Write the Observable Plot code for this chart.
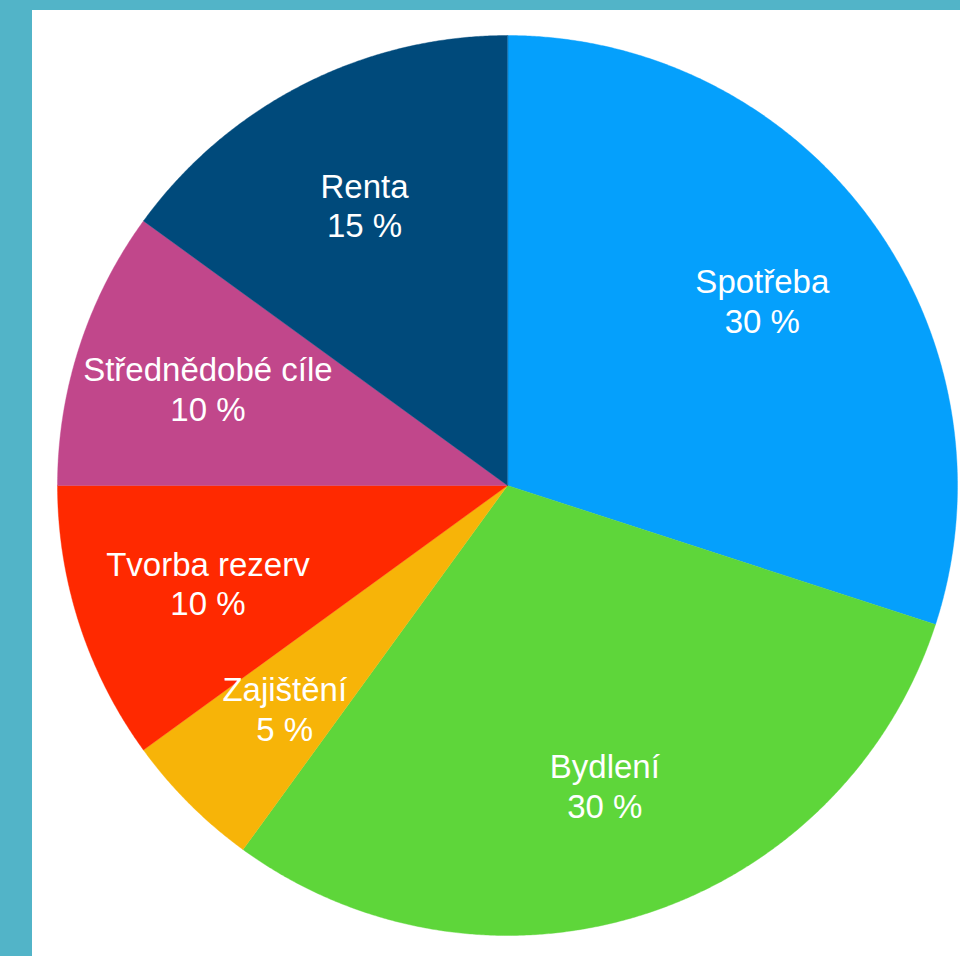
<!DOCTYPE html>
<html><head><meta charset="utf-8">
<script src="https://cdn.jsdelivr.net/npm/d3@7"></script>
<script src="https://cdn.jsdelivr.net/npm/@observablehq/plot@0.6"></script>
<style>
html,body{margin:0;padding:0;background:#52b4c8;width:960px;height:956px;overflow:hidden}
#panel{position:absolute;left:32px;top:10px;width:928px;height:946px;background:#fff}
</style></head><body><div id="panel"></div>
<script>
const categories = ["Spotřeba","Bydlení","Zajištění","Tvorba rezerv","Střednědobé cíle","Renta"];
const values = [30,30,5,10,10,15];
const colors = ["#05a0fc","#5ed63a","#f7b408","#ff2900","#c1478b","#004a7b"];
const labelRadius = 0.7;

const arcs = d3.pie().sort(null).value(d => d)(values);
const polys = arcs.map((a, i) => {
  const pts = [{x: 0, y: 0}];
  const n = Math.max(8, Math.ceil((a.endAngle - a.startAngle) / 0.005));
  for (let k = 0; k <= n; k++) {
    const t = a.startAngle + (a.endAngle - a.startAngle) * k / n;
    pts.push({x: Math.sin(t), y: Math.cos(t)});
  }
  return pts;
});
const labels = arcs.map((a, i) => {
  const m = (a.startAngle + a.endAngle) / 2;
  return {x: labelRadius * Math.sin(m), y: labelRadius * Math.cos(m), text: categories[i] + "\n" + values[i] + " %"};
});

const chart = Plot.plot({
  width: 928, height: 946,
  margin: 0,
  x: {domain: [-475/450, 453/450], axis: null},
  y: {domain: [-471/450, 475/450], axis: null},
  marks: [
    ...polys.map((p, i) => Plot.line(p, {x: "x", y: "y", fill: colors[i], stroke: colors[i], strokeWidth: 0.4, curve: "linear-closed"})),
    Plot.text(labels, {x: "x", y: "y", text: "text", fill: "white", fontSize: 33, fontFamily: "Liberation Sans, Arial, sans-serif", lineHeight: 1.2})
  ]
});
document.getElementById("panel").appendChild(chart);
</script></body></html>
